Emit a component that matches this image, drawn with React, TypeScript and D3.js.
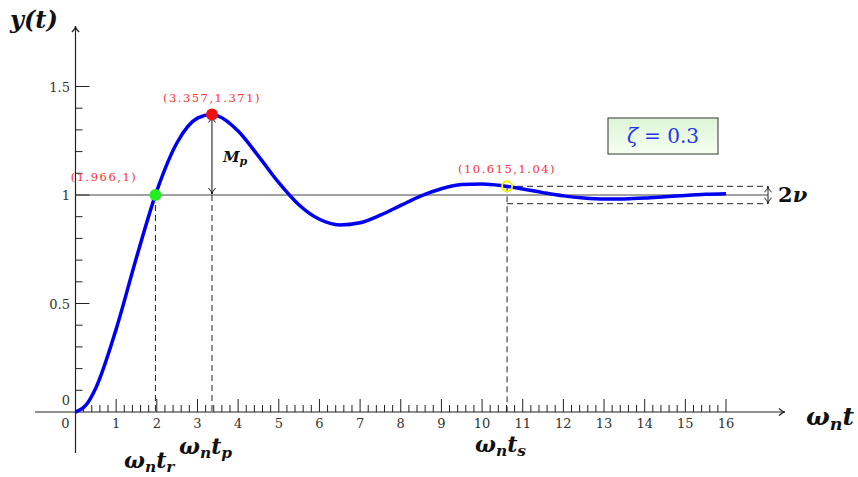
import React from 'react'
import * as d3 from 'd3'

// step response samples (zeta = 0.3)
const tValues = [0, 0.25, 0.5, 1, 1.5, 2, 2.5, 3, 3.357, 3.5, 4, 4.5, 5, 5.5, 6, 6.5, 7, 7.5, 8, 8.5, 9, 9.5, 10, 10.5, 11, 11.5, 12, 12.5, 13, 13.5, 14, 14.5, 15, 15.5, 16]
const yValues = [0, 0.03, 0.111, 0.382, 0.712, 1.019, 1.242, 1.354, 1.371, 1.365, 1.295, 1.179, 1.057, 0.954, 0.888, 0.862, 0.872, 0.907, 0.952, 0.996, 1.029, 1.048, 1.051, 1.043, 1.028, 1.011, 0.996, 0.986, 0.981, 0.982, 0.986, 0.992, 0.998, 1.003, 1.006]

const xTickLabels = ['0', '1', '2', '3', '4', '5', '6', '7', '8', '9', '10', '11', '12', '13', '14', '15', '16']
const yTickLabels = ['0', '0.5', '1', '1.5']

const riseTime = [1.966, 1]
const peak = [3.357, 1.371]
const settling = [10.615, 1.04]
const band = [0.96, 1.04]
const zeta = 0.3

const serif = '"DejaVu Serif", "Liberation Serif", serif'

const App = () => {
    const W = 858, H = 477
    const x = d3.scaleLinear().domain([0, 16]).range([75.5, 726])
    const y = d3.scaleLinear().domain([0, 1]).range([412, 195])

    const pts: [number, number][] = tValues.map((t, i) => [t, yValues[i]])
    const line = d3.line<[number, number]>()
        .x(d => x(d[0]))
        .y(d => y(d[1]))
        .curve(d3.curveMonotoneX)

    const minorX = d3.range(1, 81).map(i => i * 0.2)
    const minorY = d3.range(1, 16).map(i => i / 10)
    const axisCol = '#222'
    const bandEnd = 768

    const head = (px: number, py: number, dir: string) => {
        // small latex-like arrow head
        const s = 6
        if (dir === 'right') return `M${px - s},${py - s * 0.6} Q${px - s * 0.4},${py} ${px},${py} Q${px - s * 0.4},${py} ${px - s},${py + s * 0.6}`
        if (dir === 'up') return `M${px - s * 0.6},${py + s} Q${px},${py + s * 0.4} ${px},${py} Q${px},${py + s * 0.4} ${px + s * 0.6},${py + s}`
        return `M${px - s * 0.6},${py - s} Q${px},${py - s * 0.4} ${px},${py} Q${px},${py - s * 0.4} ${px + s * 0.6},${py - s}`
    }

    const math = (main: string, sub: string, size: number) => (
        <>
            <tspan>ω</tspan>
            <tspan fontSize={size * 0.7} dy={size * 0.2}>n</tspan>
            <tspan dy={-size * 0.2}>{main}</tspan>
            {sub && <tspan fontSize={size * 0.7} dy={size * 0.2}>{sub}</tspan>}
        </>
    )

    const bigText = { fontWeight: 'bold', fontStyle: 'italic', fill: '#111' } as const

    return (
        <svg width={W} height={H} style={{ position: 'absolute', left: 0, top: 0, background: '#fff' }} fontFamily={serif}>
            <defs>
                <linearGradient id="boxFill" x1="0" y1="0" x2="0" y2="1">
                    <stop offset="0" stopColor="#ddf5d6" />
                    <stop offset="1" stopColor="#f6fff2" />
                </linearGradient>
            </defs>

            {/* axes */}
            <line x1={35} x2={784} y1={y(0)} y2={y(0)} stroke={axisCol} strokeWidth={1.2} />
            <path d={head(785, y(0), 'right')} stroke={axisCol} strokeWidth={1.3} fill="none" />
            <line x1={x(0)} x2={x(0)} y1={453} y2={27} stroke={axisCol} strokeWidth={1.2} />
            <path d={head(x(0), 26, 'up')} stroke={axisCol} strokeWidth={1.3} fill="none" />

            {/* x ticks */}
            {minorX.map((v, i) => {
                const major = (i + 1) % 5 === 0
                return <line key={'mx' + i} x1={x(v)} x2={x(v)} y1={y(0)} y2={y(0) - (major ? 13 : 7)} stroke={axisCol} strokeWidth={1} />
            })}
            {xTickLabels.map((l, i) => (
                <text key={'xl' + i} x={i === 0 ? x(0) - 10 : x(i)} y={428} fontSize={13} textAnchor="middle" fill="#333">{l}</text>
            ))}

            {/* y ticks */}
            {minorY.map((v, i) => {
                const major = (i + 1) % 5 === 0
                return <line key={'my' + i} x1={x(0)} x2={x(0) + (major ? 14 : 7)} y1={y(v)} y2={y(v)} stroke={axisCol} strokeWidth={1} />
            })}
            {yTickLabels.map((l, i) => (
                <text key={'yl' + i} x={70} y={(i === 0 ? y(0) - 12 : y(+l)) + 5} fontSize={13} textAnchor="end" fill="#333">{l}</text>
            ))}

            {/* reference y = 1 */}
            <line x1={x(0)} x2={bandEnd} y1={y(1)} y2={y(1)} stroke="#444" strokeWidth={1.2} />

            {/* settling band */}
            {band.map((b, i) => (
                <line key={'b' + i} x1={x(settling[0])} x2={bandEnd} y1={y(b)} y2={y(b)} stroke="#222" strokeWidth={1} strokeDasharray="6,4" />
            ))}
            <line x1={bandEnd} x2={bandEnd} y1={y(band[1])} y2={y(band[0])} stroke="#222" strokeWidth={1} />
            <path d={head(bandEnd, y(band[1]), 'up')} stroke="#222" fill="none" strokeWidth={1} />
            <path d={head(bandEnd, y(band[0]), 'down')} stroke="#222" fill="none" strokeWidth={1} />
            <text x={778} y={202} fontSize={21} {...bigText} fontStyle="normal">2<tspan fontStyle="italic">ν</tspan></text>

            {/* dashed verticals */}
            <line x1={x(riseTime[0])} x2={x(riseTime[0])} y1={y(1)} y2={y(0)} stroke="#222" strokeDasharray="6,4" strokeWidth={1} />
            <line x1={x(peak[0])} x2={x(peak[0])} y1={y(1)} y2={y(0)} stroke="#222" strokeDasharray="6,4" strokeWidth={1} />
            <line x1={x(settling[0])} x2={x(settling[0])} y1={y(settling[1])} y2={y(0)} stroke="#222" strokeDasharray="6,4" strokeWidth={1} />

            {/* Mp arrow */}
            <line x1={x(peak[0])} x2={x(peak[0])} y1={y(peak[1]) + 2} y2={y(1) - 1} stroke="#111" strokeWidth={1} />
            <path d={head(x(peak[0]), y(peak[1]) + 2, 'up')} stroke="#111" fill="none" strokeWidth={1} />
            <path d={head(x(peak[0]), y(1) - 1, 'down')} stroke="#111" fill="none" strokeWidth={1} />
            <text x={223} y={162} fontSize={15} {...bigText}>
                M<tspan fontSize={11} dy={3}>p</tspan>
            </text>

            {/* response curve */}
            <path d={line(pts) || ''} fill="none" stroke="#0000f0" strokeWidth={3.5} strokeLinejoin="round" />

            {/* markers */}
            <circle cx={x(riseTime[0])} cy={y(riseTime[1])} r={6} fill="#22ee22" />
            <circle cx={x(peak[0])} cy={y(peak[1])} r={6} fill="#ee1111" />
            <circle cx={x(settling[0])} cy={y(settling[1])} r={5} fill="none" stroke="#f2ee00" strokeWidth={2} />

            <text x={104} y={181} fontSize={11.5} letterSpacing={1.5} textAnchor="middle" fill="#ff3030">({riseTime[0]},{riseTime[1]})</text>
            <text x={x(peak[0])} y={102} fontSize={11.5} letterSpacing={1.5} textAnchor="middle" fill="#ff3030">({peak[0]},{peak[1]})</text>
            <text x={x(settling[0])} y={173} fontSize={11.5} letterSpacing={1.5} textAnchor="middle" fill="#ff3030">({settling[0]},{settling[1]})</text>

            {/* zeta box */}
            <rect x={608} y={118} width={110} height={36} fill="url(#boxFill)" stroke="#333" strokeWidth={1} />
            <text x={663} y={143} fontSize={20} textAnchor="middle" fill="#2233ee">
                <tspan fontStyle="italic">ζ</tspan> = {zeta}
            </text>

            {/* axis titles */}
            <text x={10} y={28} fontSize={24} {...bigText}>y(t)</text>
            <text x={806} y={425} fontSize={25} {...bigText}>{math('t', '', 25)}</text>
            <text x={124} y={468} fontSize={22} {...bigText}>{math('t', 'r', 22)}</text>
            <text x={179} y={454} fontSize={22} {...bigText}>{math('t', 'p', 22)}</text>
            <text x={475} y={452} fontSize={22} {...bigText}>{math('t', 's', 22)}</text>
        </svg>
    )
}

export default App
